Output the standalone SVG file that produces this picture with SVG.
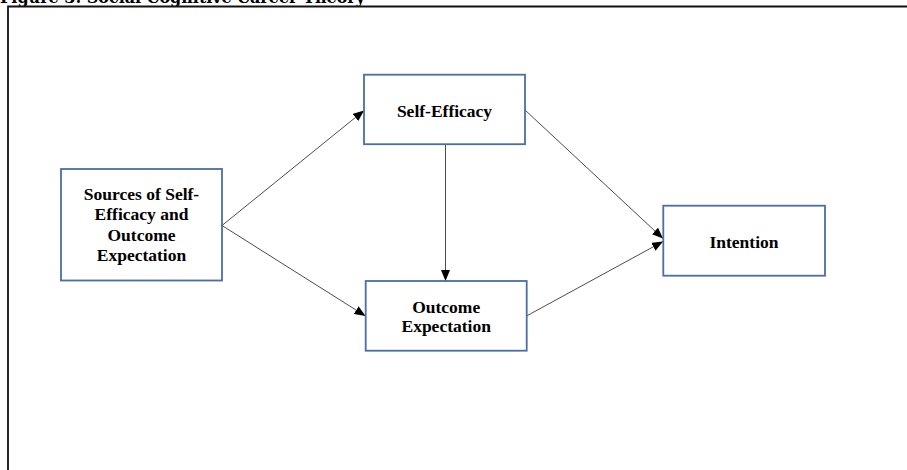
<svg xmlns="http://www.w3.org/2000/svg" width="907" height="470" viewBox="0 0 907 470">
  <style>
    .box { fill: #ffffff; stroke: #4a6ea8; stroke-width: 1.8; }
    .lbl { font-family: "Liberation Serif", "Times New Roman", serif; font-weight: bold; font-size: 17.5px; fill: #000000; text-anchor: middle; }
    .title { font-family: "DejaVu Serif", "Liberation Serif", serif; font-weight: bold; font-size: 16px; fill: #000000; }
    .edge { fill: none; stroke: #4d4d4d; stroke-width: 1; marker-end: url(#arrow); }
    .frame { fill: none; stroke: #111111; stroke-width: 1.8; }
  </style>
  <defs>
    <marker id="arrow" markerUnits="userSpaceOnUse" markerWidth="11" markerHeight="9" refX="11" refY="4.5" orient="auto">
      <path d="M0,0 L11,4.5 L0,9 Z" fill="#000000"/>
    </marker>
  </defs>

  <rect width="907" height="470" fill="#ffffff"/>

  <!-- caption and frame -->
  <text class="title" x="0" y="3" textLength="365" lengthAdjust="spacingAndGlyphs">Figure 3: Social Cognitive Career Theory</text>
  <path class="frame" d="M8,470 L8,6.5 L907,6.5"/>

  <!-- connectors -->
  <g id="connectors">
    <line class="edge" x1="222" y1="225.5" x2="364" y2="110.5"/>
    <line class="edge" x1="222" y1="225.5" x2="365.5" y2="316"/>
    <line class="edge" x1="445.5" y1="144.5" x2="445.5" y2="281"/>
    <line class="edge" x1="525" y1="110" x2="663" y2="238.5"/>
    <line class="edge" x1="526.5" y1="316" x2="663" y2="241.5"/>
  </g>

  <!-- nodes -->
  <g id="sources">
    <rect class="box" x="61" y="169" width="161" height="111.5"/>
    <text class="lbl" x="141.5" y="200">Sources of Self-</text>
    <text class="lbl" x="141.5" y="220">Efficacy and</text>
    <text class="lbl" x="141.5" y="240.5">Outcome</text>
    <text class="lbl" x="141.5" y="260.5">Expectation</text>
  </g>

  <g id="self-efficacy">
    <rect class="box" x="364" y="74.7" width="161" height="69.5"/>
    <text class="lbl" x="444.5" y="117">Self-Efficacy</text>
  </g>

  <g id="outcome-expectation">
    <rect class="box" x="365.7" y="281" width="161" height="69.7"/>
    <text class="lbl" x="446.2" y="312.5">Outcome</text>
    <text class="lbl" x="446.2" y="332">Expectation</text>
  </g>

  <g id="intention">
    <rect class="box" x="663.3" y="205.7" width="161.7" height="70"/>
    <text class="lbl" x="744" y="247.5">Intention</text>
  </g>
</svg>
